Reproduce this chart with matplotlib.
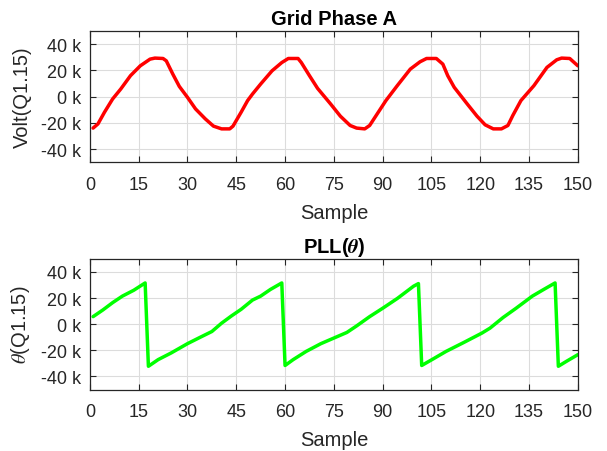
import matplotlib
matplotlib.use('Agg')
import matplotlib.pyplot as plt

# grid phase A voltage, Q1.15 counts
volt_samples = [1, 2.5, 4.5, 7, 9.5, 12.5, 15.5, 18.5, 20, 22.5, 23.5, 25.5, 27.5, 30, 32.5, 35.5, 38, 40.5, 43, 44,
                46.5, 48.5, 50, 52.5, 56, 59, 61, 64, 65, 67.5, 70, 74, 77, 80, 82, 84.5, 86, 88, 91, 94.5, 98.5,
                101.5, 103.5, 106.5, 108.5, 110, 112, 116, 119, 121.5, 124, 126.5, 128.5, 130, 132.5, 136.5, 140.5,
                143.5, 145, 147.5, 150]
volt_values = [-24000, -20800, -11900, -1800, 5800, 16000, 23500, 28600, 29400, 29100, 27300, 17200, 7800, -500, -9400,
               -17000, -22500, -24600, -24600, -22500, -11900, -3000, 2000, 9600, 19700, 26000, 29100, 29100, 26000,
               16000, 6300, -5600, -14900, -22000, -24000, -24600, -22000, -14400, -3000, 8400, 21000, 26600, 29100,
               29100, 24800, 16000, 7100, -5600, -14900, -21500, -24600, -24600, -22000, -14400, -3000, 8400, 22300,
               28100, 29400, 29100, 23500]

# PLL angle output, Q1.15 counts
theta_samples = [1, 4, 7, 10, 13.5, 17, 18, 21, 25, 30, 34, 37.5, 40.5, 43.5, 46.5, 50, 52.5, 55.5, 59, 60, 62.5,
                 66.5, 71, 75, 79, 82, 86, 90, 94.5, 99.5, 101, 102, 105.5, 109.5, 115, 120.5, 123, 127, 131, 136,
                 139.5, 143, 144, 146.5, 150]
theta_values = [5800, 10900, 16500, 21500, 26000, 31600, -32200, -27100, -22000, -14900, -9900, -5600, 800, 6300,
                11400, 18500, 21500, 26600, 31600, -31600, -27100, -20800, -14900, -10600, -6300, -1300, 5800, 12200,
                19700, 29100, 31100, -31600, -26600, -20800, -13900, -6800, -3000, 5100, 12200, 21500, 26600, 31600,
                -32200, -28400, -23300]

x_ticks = list(range(0, 151, 15))
y_ticks = [-40000, -20000, 0, 20000, 40000]
y_tick_labels = ['-40 k', '-20 k', '0 k', '20 k', '40 k']

plt.rcParams['font.family'] = ['Liberation Sans', 'DejaVu Sans']
plt.rcParams['mathtext.fontset'] = 'stix'

fig = plt.figure(figsize=(6.07, 4.52), dpi=100)
ax1 = fig.add_axes([0.148, 0.639, 0.804, 0.290])
ax2 = fig.add_axes([0.148, 0.136, 0.804, 0.289])

panels = [
    (ax1, volt_samples, volt_values, '#ff0000', 'Grid Phase A', 'Volt(Q1.15)'),
    (ax2, theta_samples, theta_values, '#00ff00', r'PLL($\boldsymbol{\theta}$)', r'$\theta$(Q1.15)'),
]

for ax, xs, ys, color, title, ylabel in panels:
    ax.plot(xs, ys, color=color, linewidth=2.5, solid_joinstyle='round', solid_capstyle='round')
    ax.set_xlim(0, 150)
    ax.set_ylim(-50000, 50000)
    ax.set_xticks(x_ticks)
    ax.set_yticks(y_ticks)
    ax.set_yticklabels(y_tick_labels)
    ax.grid(True, color='#dcdcdc', linewidth=0.8)
    ax.set_axisbelow(True)
    ax.tick_params(direction='in', top=True, right=True, length=4, width=0.8,
                   colors='#262626', labelsize=13)
    ax.tick_params(axis='x', pad=10)
    ax.tick_params(axis='y', pad=6)
    for spine in ax.spines.values():
        spine.set_color('#262626')
        spine.set_linewidth(0.9)
    ax.set_title(title, fontsize=14.5, fontweight='bold', pad=5)
    ax.set_xlabel('Sample', fontsize=14.5, color='#262626', labelpad=7)
    ax.set_ylabel(ylabel, fontsize=14.5, color='#262626', labelpad=7)

fig.savefig('out.png', dpi=100)
